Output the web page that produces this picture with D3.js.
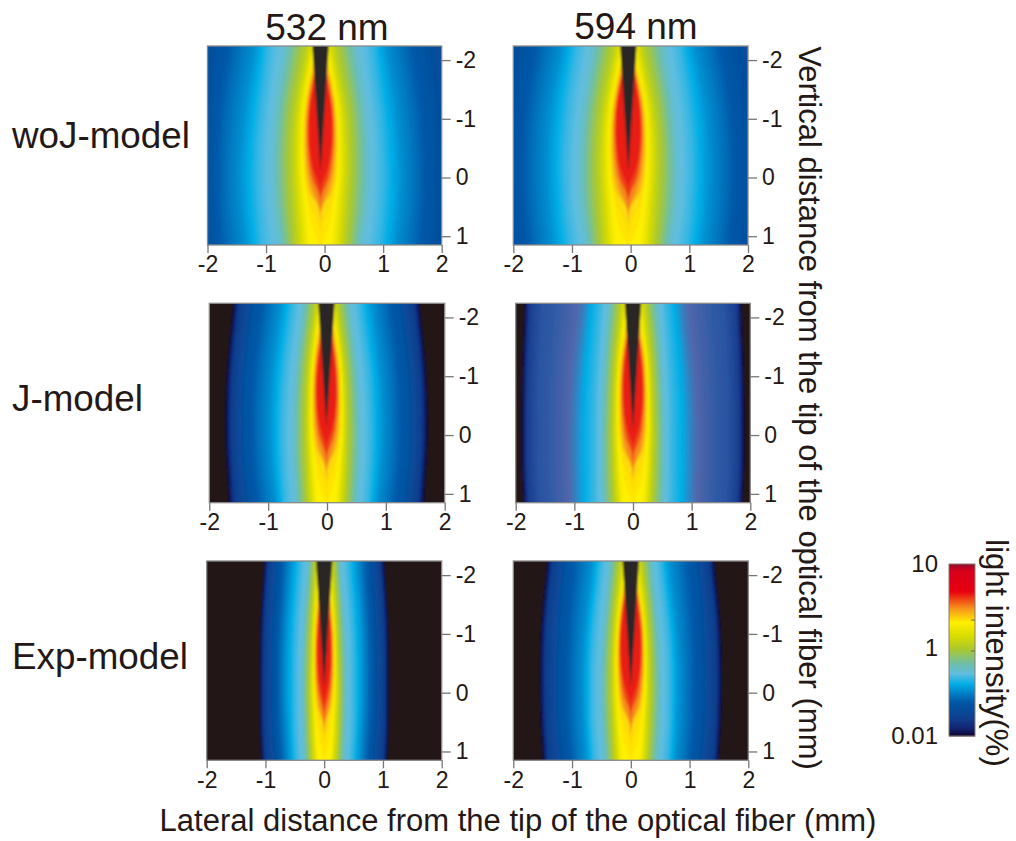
<!DOCTYPE html>
<html><head><meta charset="utf-8">
<script src="https://cdn.jsdelivr.net/npm/d3@7"></script>
<style>html,body{margin:0;background:#fff}text{font-family:"Liberation Sans",Arial,sans-serif;fill:#231815}</style>
</head><body><svg id="c" width="1016" height="841"></svg>
<script>
// Depths (mm) at which contour half-widths were read
const depths=[-2.24,-1.7,-1.2,-0.6,-0.1,0.1,0.3,0.5,0.8,1.15];
// Highest colour-bar position reached on the fibre axis at each depth
const peakLevels=[.83,.83,.83,.83,.83,.8,.75,.69,.67,.66];
// Colour-bar positions of each contour row
const levels=[0,.1,.18,.27,.34,.38,.54,.65,.74,.83];
const rampStops=[0,.04,.1,.2,.25,.3,.36,.42,.5,.58,.66,.74,.8,.84,.96,1];
const rampColors=["#0a0530","#14226f","#0f3f8e","#0059a8","#0083c8","#00aee6","#5fbde0","#6fbfa8","#a8c832","#d9dc00","#fff000","#f7941d","#ee3e14","#e60012","#d7001b","#8f1030"];
const rampColorsJ594=["#0a0530","#14226f","#1a3f90","#2f5aa5","#5166aa","#00aee6","#5fbde0","#6fbfa8","#a8c832","#d9dc00","#fff000","#f7941d","#ee3e14","#e60012","#d7001b","#8f1030"];
// Half-width (mm) of each colour contour, rows = levels, columns = depths
const woJ532=[[3,3,3,3,3,3,3,3,3,3],[2.5,2.5,2.5,2.5,2.5,2.5,2.5,2.5,2.5,2.5],
[1.75,1.85,1.9,1.95,1.95,1.95,1.95,1.95,1.93,1.9],[1.12,1.22,1.3,1.36,1.38,1.38,1.37,1.36,1.33,1.28],
[.88,.93,1,1.05,1.06,1.06,1.05,1.04,1.02,.99],[.62,.7,.78,.82,.82,.82,.81,.8,.76,.7],
[.22,.33,.43,.47,.47,.46,.45,.44,.42,.4],[.1,.2,.3,.32,.31,.3,.28,.26,.24,.2],
[0,.14,.23,.25,.21,.16,.1,0,0,0],[0,.08,.19,.2,.11,.03,0,0,0,0]];
const woJ594=[[3,3,3,3,3,3,3,3,3,3],[2.5,2.5,2.5,2.5,2.5,2.5,2.5,2.5,2.5,2.5],
[1.75,1.85,1.92,1.97,1.97,1.97,1.97,1.96,1.94,1.9],[1.12,1.25,1.33,1.38,1.38,1.38,1.37,1.36,1.33,1.29],
[.86,.95,1.02,1.07,1.08,1.07,1.06,1.05,1.03,.97],[.62,.7,.78,.83,.84,.84,.83,.82,.78,.72],
[.22,.34,.44,.49,.49,.48,.47,.46,.44,.42],[.1,.2,.31,.34,.33,.32,.3,.28,.26,.23],
[0,.14,.24,.26,.22,.17,.11,.02,0,0],[0,.1,.2,.21,.12,.04,0,0,0,0]];
const J532=[[1.58,1.64,1.69,1.72,1.72,1.72,1.71,1.7,1.68,1.66],[1.48,1.54,1.59,1.62,1.62,1.62,1.61,1.6,1.58,1.56],
[1.22,1.3,1.36,1.4,1.4,1.4,1.39,1.38,1.35,1.3],[.78,.85,.92,.96,.96,.96,.95,.94,.91,.86],
[.56,.63,.7,.74,.75,.75,.74,.74,.72,.7],[.4,.46,.52,.56,.57,.57,.57,.56,.54,.52],
[.17,.25,.31,.34,.34,.34,.33,.33,.32,.3],[.09,.17,.24,.26,.26,.25,.24,.22,.2,.17],
[0,.11,.19,.21,.18,.14,.09,.01,0,0],[0,.06,.15,.17,.1,.03,0,0,0,0]];
const J594=[[1.85,1.87,1.89,1.9,1.9,1.9,1.9,1.9,1.89,1.87],[1.76,1.78,1.8,1.81,1.81,1.81,1.81,1.81,1.8,1.78],
[1.55,1.58,1.6,1.62,1.62,1.62,1.62,1.62,1.6,1.58],[.84,.9,.96,1,1.01,1.01,1.01,1.01,1,1],
[.56,.6,.63,.66,.66,.66,.66,.66,.66,.66],[.42,.47,.5,.53,.54,.54,.54,.54,.54,.52],
[.2,.26,.31,.33,.34,.34,.33,.33,.32,.3],[.1,.17,.24,.26,.26,.25,.24,.23,.21,.18],
[0,.11,.19,.21,.18,.15,.11,.04,0,0],[0,.08,.15,.17,.1,.03,0,0,0,0]];
const Exp532=[[1.02,1.06,1.09,1.1,1.1,1.1,1.1,1.1,1.09,1.07],[.95,.99,1.02,1.03,1.03,1.03,1.03,1.03,1.02,1],
[.78,.8,.84,.86,.85,.85,.85,.85,.83,.8],[.56,.6,.64,.66,.66,.66,.65,.64,.62,.6],
[.4,.44,.48,.5,.5,.5,.5,.5,.49,.47],[.27,.31,.35,.38,.38,.38,.38,.37,.36,.35],
[.15,.18,.21,.23,.24,.24,.23,.23,.22,.2],[.08,.12,.16,.18,.18,.17,.16,.15,.14,.11],
[0,.07,.13,.15,.13,.1,.07,.01,0,0],[0,0,.1,.12,.07,.02,0,0,0,0]];
const Exp594=[[1.42,1.48,1.53,1.55,1.55,1.55,1.54,1.54,1.52,1.5],[1.33,1.39,1.44,1.46,1.46,1.46,1.45,1.45,1.43,1.41],
[1.1,1.15,1.18,1.2,1.2,1.2,1.2,1.2,1.17,1.13],[.66,.72,.78,.82,.82,.82,.81,.81,.79,.76],
[.5,.56,.62,.66,.66,.66,.66,.66,.64,.62],[.36,.41,.46,.5,.51,.51,.5,.5,.48,.45],
[.17,.24,.29,.32,.32,.32,.31,.3,.29,.27],[.09,.15,.22,.25,.24,.23,.22,.21,.19,.16],
[0,.12,.19,.21,.18,.15,.1,.02,0,0],[0,.07,.16,.18,.1,.03,0,0,0,0]];
// Fibre axis offset, fibre half-width at the top, and tip depth (mm)
const fibreOffsets=[-.07,-.04,-.01,0,0,0];
const fibreTopWidths=[.14,.14,.14,.14,.14,.14];
const fibreTips=[-.1,-.1,-.14,-.1,-.1,-.1];
const xTicks=[-2,-1,0,1,2], yTicks=[-2,-1,0,1];
const columnTitles=["532 nm","594 nm"], rowTitles=["woJ-model","J-model","Exp-model"];
const legendTicks=[["10",1],["1",.51],["0.01",0]];
const legendMinorTicks=[.674,.494];

const panels=[
 {d:woJ532,x:[207.5,441.7],y:[46,245]},{d:woJ594,x:[513.3,748],y:[46,245]},
 {d:J532,x:[209.3,444.7],y:[303.3,502.7]},{d:J594,x:[515.7,750.3],y:[303.3,502.7],ramp:rampColorsJ594},
 {d:Exp532,x:[206.7,441.7],y:[561,760.3]},{d:Exp594,x:[513.3,748.3],y:[561,760.3]}];
const svg=d3.select("#c");
const blur=svg.append("defs").append("filter").attr("id","soft").attr("x","-5%").attr("y","-5%").attr("width","110%").attr("height","110%");
blur.append("feGaussianBlur").attr("stdDeviation",1);
const yDomain=[-2.24,1.15];
const bleed=.15;
const fine=d3.range(0,.8301,.01);
panels.forEach((p,i)=>{
  const color=d3.scaleLinear().domain(rampStops).range(p.ramp||rampColors).interpolate(d3.interpolateRgb).clamp(true);
  const x=d3.scaleLinear().domain([-2,2]).range(p.x), y=d3.scaleLinear().domain(yDomain).range(p.y);
  const off=fibreOffsets[i];
  const g=svg.append("g");
  svg.append("clipPath").attr("id","cp"+i).append("rect").attr("x",p.x[0]).attr("y",p.y[0]).attr("width",p.x[1]-p.x[0]).attr("height",p.y[1]-p.y[0]);
  const m=g.append("g").attr("clip-path",`url(#cp${i})`).append("g").attr("filter","url(#soft)");
  m.append("rect").attr("x",p.x[0]-10).attr("y",p.y[0]-10).attr("width",p.x[1]-p.x[0]+20).attr("height",p.y[1]-p.y[0]+20).attr("fill","#231815");
  const hw=depths.map((_,j)=>{const s=d3.scaleLinear().domain(levels).range(p.d.map(r=>r[j]));return t=>t>peakLevels[j]?0:s(t);});
  const area=d3.area().y(d=>y(d[0])).x0(d=>x(off-d[1])).x1(d=>x(off+d[1])).curve(d3.curveBasis);
  const last=depths.length-1;
  m.selectAll("path.c").data(fine).join("path").attr("class","c")
    .attr("fill",t=>color(t))
    .attr("d",t=>area([[depths[0]-bleed,hw[0](t)],...depths.map((dp,j)=>[dp,hw[j](t)]),[depths[last]+bleed,hw[last](t)]]));
  const fw=[[yDomain[0]-bleed,fibreTopWidths[i]*(1+bleed/(fibreTips[i]-yDomain[0]))],[fibreTips[i],0]];
  m.append("path").attr("fill","#2b2626").attr("d",d3.area().y(d=>y(d[0])).x0(d=>x(off-d[1])).x1(d=>x(off+d[1]))(fw));
  g.append("rect").attr("x",p.x[0]).attr("y",p.y[0]).attr("width",p.x[1]-p.x[0]).attr("height",p.y[1]-p.y[0]).attr("fill","none").attr("stroke","#8a8a8a").attr("stroke-width",1.3);
  const ax=g.append("g").attr("transform",`translate(0,${p.y[1]})`).call(d3.axisBottom(x).tickValues(xTicks).tickSize(8).tickPadding(3).tickFormat(d3.format("d")));
  const ay=g.append("g").attr("transform",`translate(${p.x[1]},0)`).call(d3.axisRight(y).tickValues(yTicks).tickSize(9).tickPadding(5).tickFormat(d3.format("d")));
  [ax,ay].forEach(a=>{a.select(".domain").remove();a.selectAll("line").attr("stroke","#777").attr("stroke-width",1.3);a.selectAll("text").attr("font-size",23).attr("font-family",null).text(d=>String(d));});
});
const T=(s,x,y,fs,anchor)=>svg.append("text").attr("x",x).attr("y",y).attr("font-size",fs).attr("text-anchor",anchor||"start").text(s);
T(columnTitles[0],327,40,37,"middle");T(columnTitles[1],636,39,37,"middle");
T(rowTitles[0],12,148,36.8);T(rowTitles[1],12,411,36.8);T(rowTitles[2],12,669,36.8);
T("Lateral distance from the tip of the optical fiber (mm)",518,831,31,"middle");
const R=(s,x,y,fs)=>svg.append("text").attr("transform",`translate(${x},${y}) rotate(90)`).attr("font-size",fs).attr("text-anchor","middle").text(s);
R("Vertical distance from the tip of the optical fiber (mm)",799,408,31);
R("light intensity(%)",986,653,31);
// colour bar
const lc=d3.scaleLinear().domain(rampStops).range(rampColors);
const ly=d3.scaleLinear().domain([0,1]).range([736,564]);
svg.append("g").selectAll("rect").data(d3.range(0,1,1/172)).join("rect").attr("x",949).attr("width",26).attr("y",t=>ly(t)-1).attr("height",1.4).attr("fill",t=>lc(t));
svg.append("rect").attr("x",949).attr("y",564).attr("width",26).attr("height",172).attr("fill","none").attr("stroke","#8a7a70").attr("stroke-width",1);
svg.append("g").selectAll("line").data(legendMinorTicks).join("line").attr("x1",971).attr("x2",975).attr("y1",t=>ly(t)).attr("y2",t=>ly(t)).attr("stroke","#6a6a50").attr("stroke-width",1);
legendTicks.forEach(([s,t])=>{T(s,938,ly(t)+8,24,"end");});
</script></body></html>
